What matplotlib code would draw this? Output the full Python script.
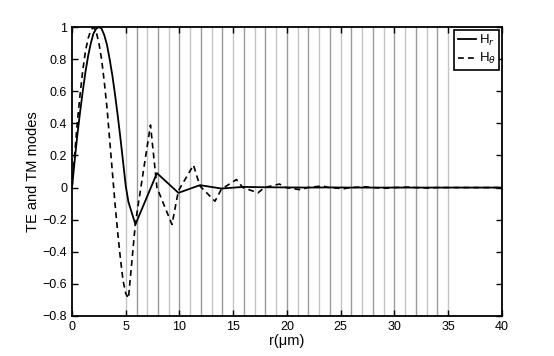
import matplotlib
matplotlib.use("Agg")
import matplotlib.pyplot as plt
from matplotlib.ticker import FuncFormatter

plt.rcParams['font.family'] = ['Liberation Sans', 'DejaVu Sans']

# H_r (solid)
r_hr = [0, 0.25, 0.5, 0.75, 1.0, 1.25, 1.5, 1.75, 2.0, 2.25, 2.5, 2.75, 3.0,
        3.25, 3.5, 3.75, 4.0, 4.25, 4.5, 4.75, 5.0, 5.25, 5.9, 7.9,
        9.9, 11.9, 13.9, 15.9, 17.9, 19.9,
        21.9, 23.9, 25.9, 27.9, 29.9, 31.9, 33.9, 35, 40]
v_hr = [0, 0.17, 0.33, 0.47, 0.6, 0.72, 0.82, 0.9, 0.96, 0.99, 1.0, 0.99, 0.95,
        0.89, 0.8, 0.7, 0.58, 0.45, 0.31, 0.16, 0.01, -0.09, -0.23, 0.09,
        -0.033, 0.015, -0.006, 0.004, 0.002, 0.001,
        0.0, 0.001, 0.0, 0.0, 0.0, 0.0, 0.0, 0.0, 0.0]

# H_theta (dashed)
r_ht = [0, 0.25, 0.5, 0.75, 1.0, 1.25, 1.5, 1.75, 2.0, 2.25, 2.5, 2.75, 3.0,
        3.25, 3.5, 3.75, 4.0, 4.25, 4.5, 4.75, 5.0, 5.25, 5.9, 7.3, 7.9,
        9.3, 9.9, 11.3, 11.9, 13.3, 13.9, 15.3, 15.9, 17.3, 17.9, 19.3, 19.9,
        21.3, 21.9, 23.3, 23.9, 25.3, 25.9, 27.3, 27.9, 29.3, 29.9, 31.3, 31.9,
        33.3, 33.9, 35, 40]
v_ht = [0, 0.21, 0.41, 0.58, 0.73, 0.85, 0.93, 0.98, 1.0, 0.97, 0.9, 0.8, 0.66,
        0.5, 0.3, 0.1, -0.1, -0.28, -0.44, -0.58, -0.66, -0.69, -0.22, 0.39, 0.0,
        -0.23, -0.02, 0.14, 0.01, -0.085, -0.01, 0.05, 0.0, -0.033, 0.0, 0.022, 0.0,
        -0.014, 0.0, 0.01, 0.0, -0.007, 0.0, 0.005, 0.0, -0.004, 0.0, 0.003, 0.0,
        -0.003, 0.0, 0.0, 0.0]

# layer boundaries
layer_r = list(range(5, 36))

fig = plt.figure(figsize=(5.54, 3.56), dpi=100)
ax = fig.add_axes([0.13, 0.1124, 0.776, 0.8116])

for r in layer_r:
    ax.axvline(r, color='#c4c4c4' if r % 2 else '#9a9a9a', lw=1.0, zorder=1)

ax.plot(r_hr, v_hr, color='black', lw=1.3, label='H$_r$', zorder=3)
ax.plot(r_ht, v_ht, color='black', lw=1.2, ls=(0, (3.5, 2.5)), label=r'H$_\theta$', zorder=3)

ax.set_xlim(0, 40)
ax.set_ylim(-0.8, 1)
ax.set_xticks(range(0, 41, 5))
ax.set_yticks([-0.8, -0.6, -0.4, -0.2, 0, 0.2, 0.4, 0.6, 0.8, 1])
ax.yaxis.set_major_formatter(FuncFormatter(lambda v, p: ('%g' % round(v, 1)).replace('-', '\u2212')))
ax.tick_params(direction='in', length=4, width=1, top=True, right=True, labelsize=9)
for s in ax.spines.values():
    s.set_linewidth(1.3)

ax.set_xlabel('r(\u03bcm)', fontsize=10.5, labelpad=1)
ax.set_ylabel('TE and TM modes', fontsize=10.5, labelpad=2)

leg = ax.legend(loc='upper right', fontsize=9.5, frameon=True, fancybox=False,
                handlelength=1.4, handletextpad=0.2, borderpad=0.25,
                labelspacing=0.25, borderaxespad=0.2)
leg.get_frame().set_edgecolor('black')
leg.get_frame().set_linewidth(1.2)
leg.get_frame().set_alpha(1)

fig.savefig('out.png', dpi=100)
